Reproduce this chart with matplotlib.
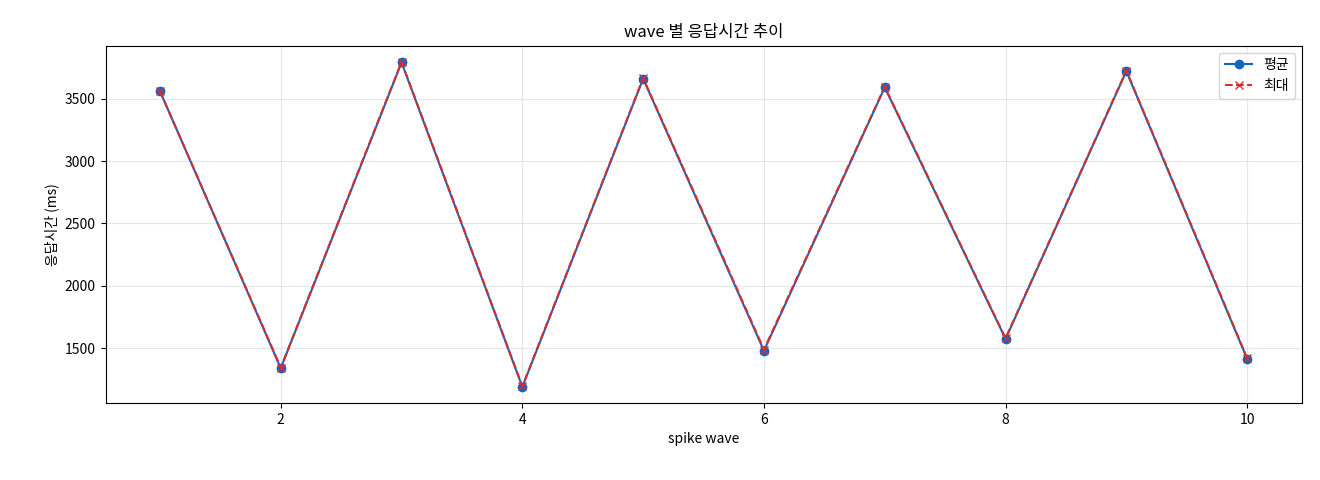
import matplotlib
matplotlib.use("Agg")
import matplotlib.pyplot as plt

plt.rcParams["font.family"] = ["Noto Sans CJK KR", "DejaVu Sans"]

waves = [1, 2, 3, 4, 5, 6, 7, 8, 9, 10]
avg_ms = [3560, 1340, 3790, 1190, 3660, 1480, 3590, 1575, 3720, 1415]
max_ms = [3560, 1345, 3795, 1195, 3665, 1490, 3595, 1580, 3725, 1420]

fig, ax = plt.subplots(figsize=(13.2, 4.8), dpi=100)
ax.plot(waves, avg_ms, marker="o", color="#1565c0", label="평균")
ax.plot(waves, max_ms, marker="x", linestyle="--", color="#d32f2f", label="최대")
ax.set_title("wave 별 응답시간 추이")
ax.set_xlabel("spike wave")
ax.set_ylabel("응답시간 (ms)")
ax.grid(alpha=0.3)
ax.legend(loc="upper right")
fig.subplots_adjust(left=0.08, right=0.986, top=0.905, bottom=0.16)
fig.savefig("out.png")
